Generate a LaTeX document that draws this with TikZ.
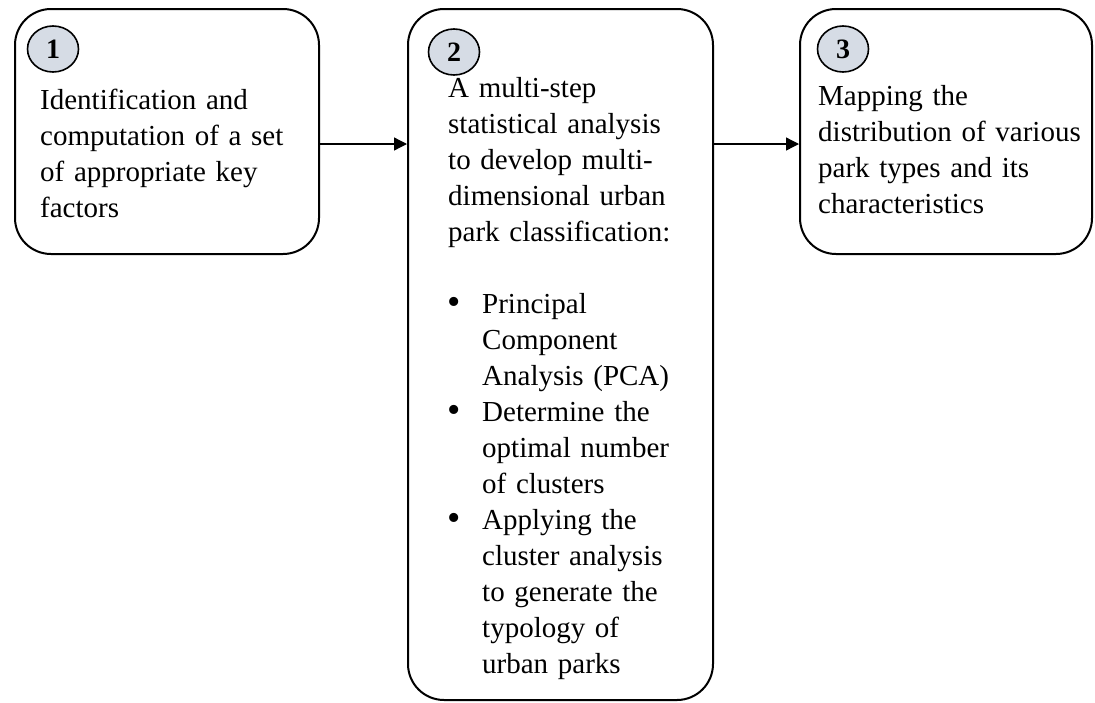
\documentclass[tikz,border=0pt]{standalone}
\usepackage{fontspec}
\setmainfont{Liberation Serif}
\usetikzlibrary{arrows.meta,shapes.geometric}
\definecolor{numfill}{HTML}{D6DCE5}
\newcommand{\bigbul}{\makebox[34pt][l]{\hspace*{-1pt}\raisebox{-1pt}{\fontsize{38}{36}\selectfont\textbullet}}}
\begin{document}
\begin{tikzpicture}[x=1pt,y=-1pt,
  stepbox/.style={draw=black, line width=2pt, rounded corners=36pt, inner sep=0pt},
  numcircle/.style={ellipse, draw=black, line width=1.6pt, fill=numfill, minimum width=51pt, minimum height=46pt, inner sep=0pt, font={\fontsize{28}{32}\selectfont\bfseries}},
  bodytext/.style={anchor=north west, inner sep=0pt, text width=300pt, align=left, font={\fontsize{29}{36}\selectfont}},
  arr/.style={draw=black, line width=1.3pt, -{Triangle[length=13pt,width=13pt]}}]
\useasboundingbox (0,0) rectangle (1095,702);
% boxes
\node[stepbox, minimum width=304pt, minimum height=245pt] (b1) at (167,131.5) {};
\node[stepbox, minimum width=305pt, minimum height=691pt] (b2) at (560.5,354.5) {};
\node[stepbox, minimum width=292pt, minimum height=245pt] (b3) at (946,131.5) {};
% number badges
\node[numcircle] (n1) at (53,49) {1};
\node[numcircle] (n2) at (454,52) {2};
\node[numcircle] (n3) at (843,49) {3};
% texts (north = first baseline - 25pt)
\node[bodytext] (t1) at (40,84) {\rule{0pt}{25pt}Identification and\\computation of a set\\of appropriate key\\factors};
\node[bodytext] (t2) at (448,72) {\rule{0pt}{25pt}A multi-step\\statistical analysis\\to develop multi-\\dimensional urban\\park classification:\\[36pt]
\bigbul Principal\\
\hspace*{34pt}Component\\
\hspace*{34pt}Analysis (PCA)\\
\bigbul Determine the\\
\hspace*{34pt}optimal number\\
\hspace*{34pt}of clusters\\
\bigbul Applying the\\
\hspace*{34pt}cluster analysis\\
\hspace*{34pt}to generate the\\
\hspace*{34pt}typology of\\
\hspace*{34pt}urban parks};
\node[bodytext] (t3) at (818,80) {\rule{0pt}{25pt}Mapping the\\distribution of various\\park types and its\\characteristics};
% connectors
\coordinate (r1) at (0,144);
\draw[arr] (b1.east |- r1) -- (b2.west |- r1);
\draw[arr] (b2.east |- r1) -- (b3.west |- r1);
\end{tikzpicture}
\end{document}
